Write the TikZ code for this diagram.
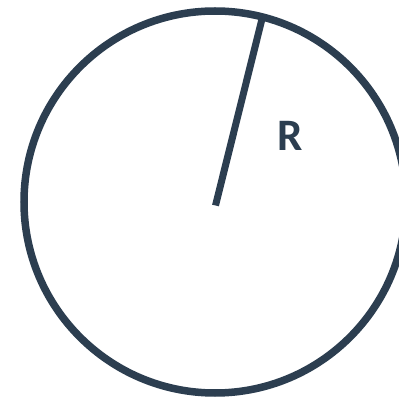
\documentclass[tikz,border=0pt]{standalone}
\usepackage{fontspec}
\setmainfont{Carlito}
\definecolor{ink}{HTML}{2C3E50}
\begin{document}
\begin{tikzpicture}[x=1pt,y=-1pt,
  stroke/.style={draw=ink,line width=7.5pt},
  lbl/.style={text=ink,font=\fontsize{45}{45}\selectfont\bfseries,inner sep=0pt}]
\useasboundingbox[fill=white] (0,0) rectangle (399,398);
\begin{scope}
\clip (0,0) rectangle (399,398);
\draw[stroke] (215,202) circle (191);
\end{scope}
\coordinate (c) at (215.5,205.5);
\coordinate (e) at (262.5,17);
\draw[draw=ink,line width=7pt] (c) -- (e);
\node[lbl,anchor=base] (r) at (290.5,151) {R};
\end{tikzpicture}
\end{document}
